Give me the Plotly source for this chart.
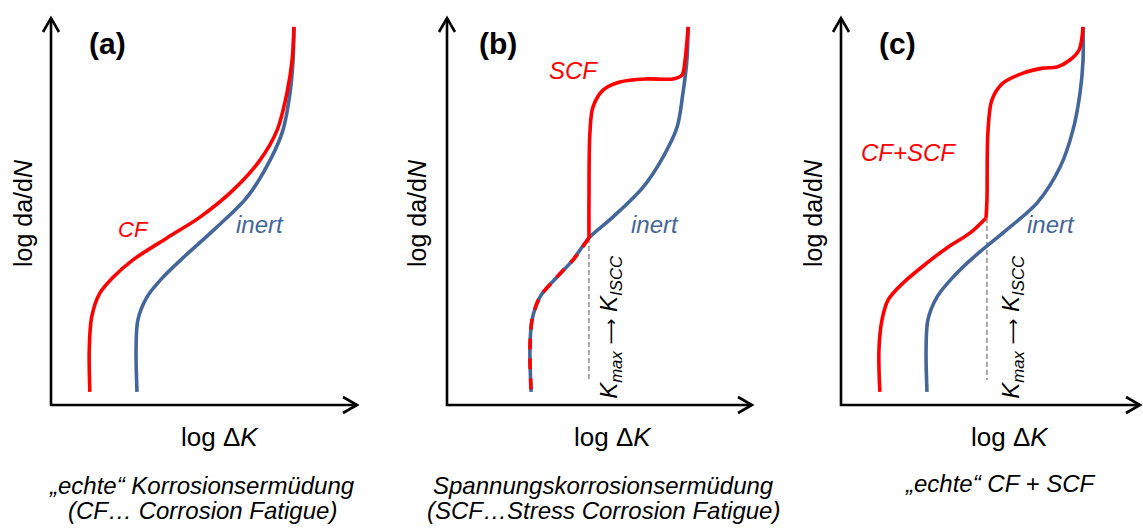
import plotly.graph_objects as go

W, H = 1143, 529
RED = "#FF0000"
BLUE = "#44669A"
FONT = "Arial, 'Liberation Sans', sans-serif"

# ---- panel (a): "echte" Korrosionsermüdung -------------------------------
a_inert_x = [2.81, 2.78, 2.84, 3.14, 3.66, 4.31, 5.42, 6.41, 7.16, 7.58, 7.81, 7.91, 7.94]
a_inert_y = [0.34, 1.43, 2.21, 2.81, 3.32, 3.82, 4.62, 5.40, 6.36, 7.14, 8.10, 8.96, 9.82]
a_cf_x = [1.27, 1.25, 1.33, 1.60, 2.03, 2.68, 3.79, 4.87, 5.95, 6.83, 7.39, 7.71, 7.88, 7.94]
a_cf_y = [0.34, 1.43, 2.29, 2.91, 3.32, 3.77, 4.34, 4.88, 5.58, 6.36, 7.14, 8.10, 8.96, 9.82]

# ---- panel (b): Spannungskorrosionsermüdung ------------------------------
b_inert_x = [2.75, 2.71, 2.78, 3.04, 3.59, 4.12, 4.64, 5.42, 6.41, 7.06, 7.52, 7.71, 7.84, 7.88]
b_inert_y = [0.34, 1.43, 2.21, 2.81, 3.32, 3.77, 4.34, 4.88, 5.66, 6.44, 7.22, 8.10, 8.96, 9.82]
# below K_ISCC the SCF curve follows the inert curve
b_low_x = [2.75, 2.71, 2.78, 3.04, 3.59, 4.12, 4.64]
b_low_y = [0.34, 1.43, 2.21, 2.81, 3.32, 3.77, 4.34]
b_scf_x = [4.64, 4.64, 4.67, 4.77, 5.10, 5.65, 6.54, 7.39, 7.68, 7.78, 7.88]
b_scf_y = [4.34, 5.32, 7.06, 7.74, 8.18, 8.39, 8.47, 8.47, 8.57, 8.96, 9.82]
b_kiscc = 4.64

# ---- panel (c): "echte" CF + SCF -----------------------------------------
c_inert_x = [2.81, 2.78, 2.84, 3.14, 3.66, 4.31, 5.29, 6.41, 7.16, 7.58, 7.81, 7.91, 7.91]
c_inert_y = [0.34, 1.43, 2.21, 2.81, 3.32, 3.82, 4.47, 5.25, 6.18, 7.14, 8.10, 8.96, 9.82]
c_cf_x = [1.27, 1.24, 1.34, 1.54, 2.03, 2.81, 3.46, 4.22, 4.74]
c_cf_y = [0.34, 1.43, 2.21, 2.73, 3.17, 3.69, 4.08, 4.47, 4.86]
c_scf_x = [4.74, 4.77, 4.80, 4.93, 5.29, 5.95, 6.60, 7.06, 7.48, 7.78, 7.91]
c_scf_y = [4.86, 5.32, 7.06, 7.92, 8.36, 8.62, 8.75, 8.78, 8.96, 9.22, 9.82]
c_kiscc = 4.77
kiscc_low = 0.65

# ---- layout geometry (pixels) --------------------------------------------
X_UNIT, Y_UNIT = 30.6, 38.5
panels = [(51, 357, ""), (447, 752, "2"), (841, 1140, "3")]
Y_BOTTOM, Y_TOP = 405, 18


def px_x(p):
    return p / W


def px_y(p):
    return 1 - p / H


fig = go.Figure()


def curve(x, y, color, s, dash="solid"):
    fig.add_trace(go.Scatter(
        x=x, y=y, mode="lines", xaxis="x" + s, yaxis="y" + s,
        line=dict(color=color, width=3.6, shape="spline", smoothing=0.9, dash=dash),
        hoverinfo="skip", showlegend=False))


def guide(xv, ytop, s):
    fig.add_trace(go.Scatter(
        x=[xv, xv], y=[ytop, kiscc_low], mode="lines", xaxis="x" + s, yaxis="y" + s,
        line=dict(color="#555555", width=1, dash="5px,3px"),
        hoverinfo="skip", showlegend=False))


# (a)
curve(a_inert_x, a_inert_y, BLUE, "")
curve(a_cf_x, a_cf_y, RED, "")
# (b)
guide(b_kiscc, b_scf_y[0], "2")
curve(b_inert_x, b_inert_y, BLUE, "2")
curve(b_low_x[::-1], b_low_y[::-1], RED, "2", dash="11px,9px")
curve(b_scf_x, b_scf_y, RED, "2")
# (c)
guide(c_kiscc, c_scf_y[0], "3")
curve(c_inert_x, c_inert_y, BLUE, "3")
curve(c_cf_x, c_cf_y, RED, "3")
curve(c_scf_x, c_scf_y, RED, "3")

layout = dict(
    width=W, height=H, margin=dict(l=0, r=0, t=0, b=0),
    paper_bgcolor="white", plot_bgcolor="white", showlegend=False,
)
shapes = []
line = dict(color="black", width=2.6)


def ppath(points):
    # open polyline in paper coordinates, points given in pixels
    return "M " + " L ".join(f"{px_x(x):.5f},{px_y(y):.5f}" for x, y in points)


for left, right, s in panels:
    xmax = (right - left) / X_UNIT
    ymax = (Y_BOTTOM - Y_TOP) / Y_UNIT
    layout["xaxis" + s] = dict(domain=[px_x(left), px_x(right)], range=[0, xmax],
                               visible=False, fixedrange=True, anchor="y" + s)
    layout["yaxis" + s] = dict(domain=[px_y(Y_BOTTOM), px_y(Y_TOP)], range=[0, ymax],
                               visible=False, fixedrange=True, anchor="x" + s)
    # axis lines with open arrow heads
    shapes += [
        dict(type="path", xref="paper", yref="paper", line=line,
             path=ppath([(left, Y_TOP), (left, Y_BOTTOM), (right, Y_BOTTOM)])),
        dict(type="path", xref="paper", yref="paper", line=line,
             path=ppath([(right - 14, Y_BOTTOM - 8), (right, Y_BOTTOM),
                         (right - 14, Y_BOTTOM + 8)])),
        dict(type="path", xref="paper", yref="paper", line=line,
             path=ppath([(left - 8, Y_TOP + 14), (left, Y_TOP), (left + 8, Y_TOP + 14)])),
    ]
layout["shapes"] = shapes
fig.update_layout(**layout)

ann = []


def text_in(s, x, y, t, size, color="black", angle=0):
    ann.append(dict(xref="x" + s, yref="y" + s, x=x, y=y, text=t, showarrow=False,
                    xanchor="center", yanchor="middle", textangle=angle,
                    font=dict(family=FONT, size=size, color=color)))


def text_px(px, py, t, size, angle=0):
    ann.append(dict(xref="paper", yref="paper", x=px_x(px), y=px_y(py), text=t,
                    showarrow=False, xanchor="center", yanchor="middle", textangle=angle,
                    font=dict(family=FONT, size=size, color="black")))


text_in("", 1.86, 9.40, "<b>(a)</b>", 30)
text_in("2", 1.67, 9.40, "<b>(b)</b>", 30)
text_in("3", 1.86, 9.40, "<b>(c)</b>", 30)

text_in("", 2.68, 4.55, "<i>CF</i>", 22, RED)
text_in("", 6.83, 4.70, "<i>inert</i>", 24, BLUE)
text_in("2", 4.12, 8.70, "<i>SCF</i>", 24, RED)
text_in("2", 6.80, 4.70, "<i>inert</i>", 24, BLUE)
text_in("3", 2.19, 6.57, "<i>CF+SCF</i>", 24, RED)
text_in("3", 6.86, 4.70, "<i>inert</i>", 24, BLUE)

kmax = ("<i>K<sub>max</sub></i> "
        "<span style=\"font-family:'DejaVu Sans';font-size:18px\">⟶</span> "
        "<i>K<sub>ISCC</sub></i>")
text_in("2", 5.36, 2.03, kmax, 24, angle=-90)
text_in("3", 5.62, 2.03, kmax, 24, angle=-90)

ylab = "log da/d<i>N</i>"
xlab = "log Δ<i>K</i>"
for (ylx, xlx) in [(23, 220), (417, 613), (813, 1010)]:
    text_px(ylx, 213, ylab, 25, angle=-90)
    text_px(xlx, 437, xlab, 26)

text_px(202, 485, "<i>„echte“ Korrosionsermüdung</i>", 24)
text_px(202, 510, "<i>(CF… Corrosion Fatigue)</i>", 24)
text_px(603, 485, "<i>Spannungskorrosionsermüdung</i>", 24)
text_px(603, 510, "<i>(SCF…Stress Corrosion Fatigue)</i>", 24)
text_px(1000, 483, "<i>„echte“ CF + SCF</i>", 24)

fig.update_layout(annotations=ann)
fig.write_html("out.html")
